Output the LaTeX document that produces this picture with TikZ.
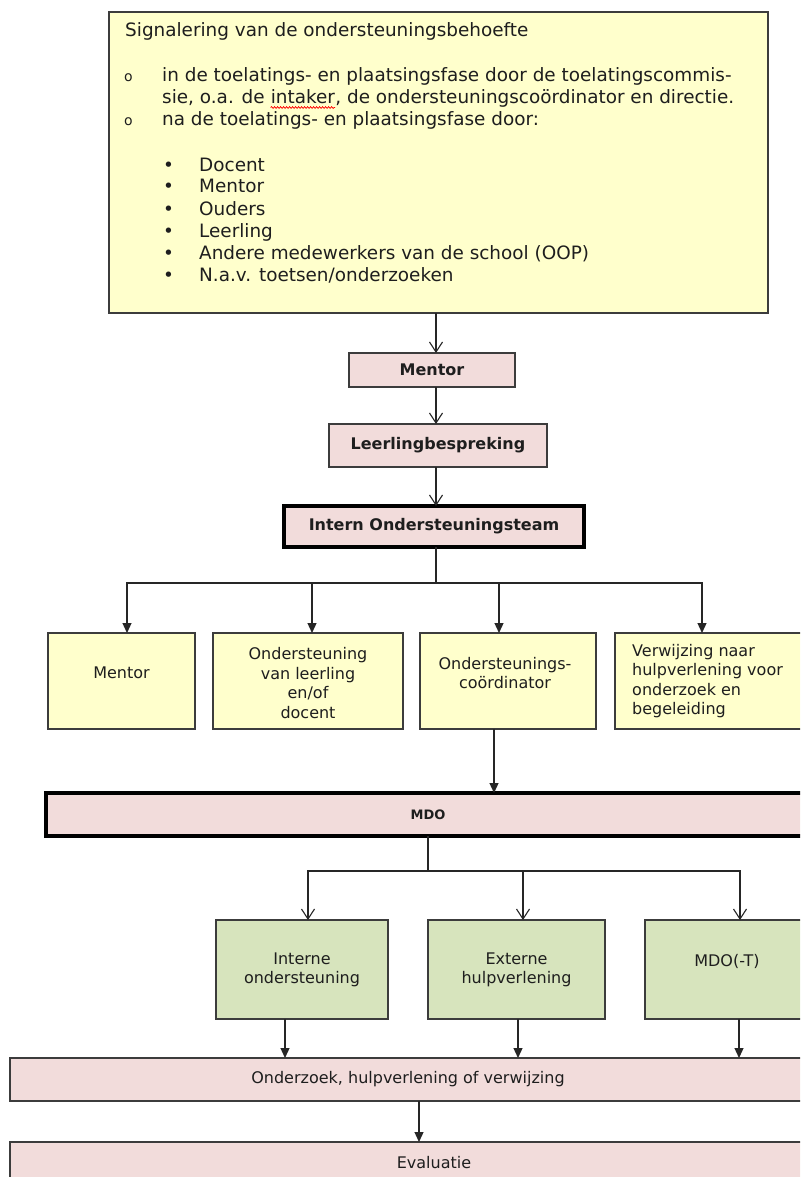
\documentclass[tikz,border=0pt]{standalone}
\usepackage{fontspec}
\setmainfont{DejaVu Sans}
\usetikzlibrary{arrows.meta,calc,decorations.pathmorphing}
\definecolor{ylw}{HTML}{FFFFCC}
\definecolor{pnk}{HTML}{F2DCDB}
\definecolor{grn}{HTML}{D7E4BD}
\definecolor{edgec}{HTML}{3C3C3C}
\definecolor{txt}{HTML}{1E1E1E}
\begin{document}
\begin{tikzpicture}[x=1pt,y=-1pt,
  every node/.style={text=txt},
  box/.style={draw=edgec,line width=1.3pt,inner sep=0pt,outer sep=0pt,anchor=north west},
  bigfont/.style={font=\fontsize{18.4}{22}\selectfont},
  boxfont/.style={font=\fontsize{16}{19.5}\selectfont},
  boldfont/.style={font=\fontsize{16}{19.5}\selectfont\bfseries},
  line/.style={draw=black!85,line width=1.2pt},
  openv/.style={line,-{Straight Barb[length=10pt,width=13pt,line width=1.1pt]}},
  filt/.style={line,-{Triangle[length=10pt,width=9pt]}},
  tl/.style={anchor=base west,inner sep=0pt,bigfont}
]
\useasboundingbox (0,0) rectangle (800,1177);
\clip (0,0) rectangle (800,1177);
\fill[white] (0,0) rectangle (800,1177);

% top box
\node[box,fill=ylw,minimum width=659pt,minimum height=301pt] (sig) at (109,12) {};
\node[tl] (t0) at (125,37) {Signalering van de ondersteuningsbehoefte};
\node[anchor=base west,inner sep=0pt,font=\fontsize{14}{16}\selectfont] (o1) at (124,82) {o};
\node[anchor=base west,inner sep=0pt,font=\fontsize{14}{16}\selectfont] (o2) at (124,126) {o};
\node[tl] (t1) at (162,82) {in de toelatings- en plaatsingsfase door de toelatingscommis-};
\node[tl] (t2a) at (162,104) {sie, o.a. de};
\node[tl,xshift=5.85pt] (t2b) at (t2a.base east) {intaker};
\node[tl] (t2c) at (t2b.base east) {, de ondersteuningscoördinator en directie.};
\draw[red,line width=0.7pt,decorate,decoration={snake,amplitude=0.9pt,segment length=3pt}]
  ([yshift=-3.5pt]t2b.base west) -- ([yshift=-3.5pt]t2b.base east);
\node[tl] (t3) at (162,126) {na de toelatings- en plaatsingsfase door:};
\foreach \y/\name/\t in {172/p1/{Docent},193/p2/{Mentor},215/p3/{Ouders},237/p4/{Leerling},259/p5/{Andere medewerkers van de school (OOP)},281/p6/{N.a.v. toetsen/onderzoeken}}{
  \node[tl] (\name b) at (163,\y) {•};
  \node[tl] (\name) at (199,\y) {\t};
}

% spine
\coordinate (spine) at (436,0);
\node[box,fill=pnk,minimum width=166pt,minimum height=34pt] (men) at (349,353) {};
\node[boldfont,inner sep=0pt] (mentxt) at (men.center) {Mentor};
\node[box,fill=pnk,minimum width=218pt,minimum height=43pt] (llb) at (329,424) {};
\node[boldfont,inner sep=0pt] (llbtxt) at (llb.center) {Leerlingbespreking};
\node[box,fill=pnk,draw=black,line width=3.2pt,minimum width=300pt,minimum height=41pt] (iot) at (284,506) {};
\node[boldfont,inner sep=0pt] (iottxt) at (iot.center) {Intern Ondersteuningsteam};

\draw[openv] (sig.south -| spine) -- (men.north -| spine);
\draw[openv] (men.south -| spine) -- (llb.north -| spine);
\draw[openv] (llb.south -| spine) -- (iot.north -| spine);

% yellow row
\node[box,fill=ylw,minimum width=147pt,minimum height=96pt] (b1) at (48,633) {};
\node[boxfont,inner sep=0pt] (b1t) at (121.5,673) {Mentor};
\node[box,fill=ylw,minimum width=190pt,minimum height=96pt] (b2) at (213,633) {};
\node[boxfont,inner sep=0pt,align=center] (b2t) at (308,683) {Ondersteuning\\van leerling\\en/of\\docent};
\node[box,fill=ylw,minimum width=176pt,minimum height=96pt] (b3) at (420,633) {};
\node[boxfont,inner sep=0pt,align=center] (b3t) at (505,673) {Ondersteunings-\\coördinator};
\node[box,fill=ylw,minimum width=200pt,minimum height=96pt] (b4) at (615,633) {};
\node[boxfont,inner sep=0pt,align=left,anchor=west] (b4t) at (632,681) {Verwijzing naar\\hulpverlening voor\\onderzoek en\\begeleiding};

\coordinate (j1) at (436,583);
\draw[line] (iot.south -| spine) -- (j1);
\draw[filt] (j1) -| ([xshift=5.5pt]b1.north);
\draw[filt] (j1) -| ([xshift=4pt]b2.north);
\draw[filt] (j1) -| ([xshift=-9pt]b3.north);
\draw[filt] (j1) -| ([xshift=-13pt]b4.north);

% MDO
\node[box,fill=pnk,draw=black,line width=4.5pt,minimum width=764pt,minimum height=43pt,font=\fontsize{13}{15}\selectfont\bfseries] (mdo) at (46,793) {MDO};
\coordinate (c3) at (494,0);
\draw[filt] (b3.south -| c3) -- (mdo.north -| c3);

% green row
\node[box,fill=grn,minimum width=172pt,minimum height=99pt] (g1) at (216,920) {};
\node[boxfont,inner sep=0pt,align=center] (g1t) at (302,970) {Interne\\ondersteuning};
\node[box,fill=grn,minimum width=177pt,minimum height=99pt] (g2) at (428,920) {};
\node[boxfont,inner sep=0pt,align=center] (g2t) at (516.5,970) {Externe\\hulpverlening};
\node[box,fill=grn,minimum width=170pt,minimum height=99pt] (g3) at (645,920) {};
\node[boxfont,inner sep=0pt] (g3t) at (727,961) {MDO(-T)};

\coordinate (j2) at (428,871);
\draw[line] (mdo.south) -- (j2);
\draw[openv] (j2) -| ([xshift=6pt]g1.north);
\draw[openv] (j2) -| ([xshift=6.5pt]g2.north);
\draw[openv] (j2) -| ([xshift=10pt]g3.north);

% bottom
\node[box,fill=pnk,minimum width=796pt,minimum height=43pt,boxfont] (ond) at (10,1058) {Onderzoek, hulpverlening of verwijzing};
\node[box,fill=pnk,minimum width=848pt,minimum height=42pt,boxfont] (eva) at (10,1142) {Evaluatie};

\coordinate (k1) at (285,0);
\coordinate (k2) at (518,0);
\coordinate (k3) at (739,0);
\draw[filt] (g1.south -| k1) -- (ond.north -| k1);
\draw[filt] (g2.south -| k2) -- (ond.north -| k2);
\draw[filt] (g3.south -| k3) -- (ond.north -| k3);
\coordinate (k4) at (419,0);
\draw[filt] (ond.south -| k4) -- (eva.north -| k4);
\end{tikzpicture}
\end{document}
